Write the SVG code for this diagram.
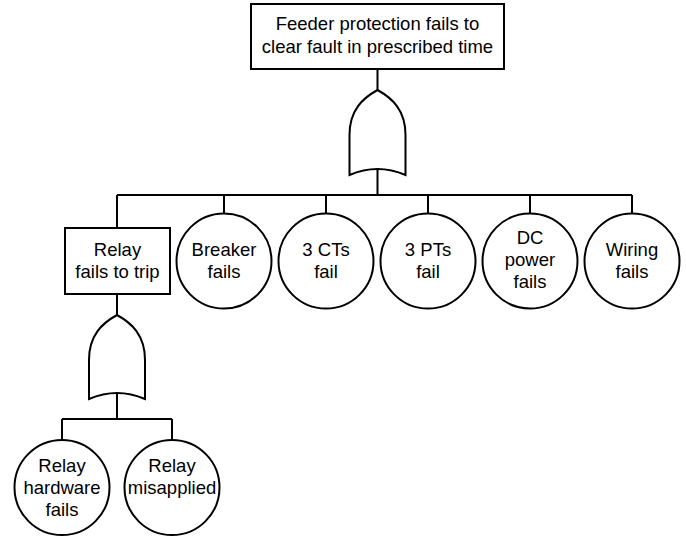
<svg xmlns="http://www.w3.org/2000/svg" width="686" height="537" viewBox="0 0 686 537">
<style>
.s{fill:#fff;stroke:#000;stroke-width:2}
.c{fill:none;stroke:#000;stroke-width:2}
text{font-family:"Liberation Sans",Arial,sans-serif;font-size:18.5px;fill:#000;text-anchor:middle}
</style>
<rect width="686" height="537" fill="#fff"/>
<g id="connectors">
<path class="c" d="M377.5,69 V90 M377.5,170 V195 M117,195 H632 M117,195 V228 M224,195 V213 M326,195 V213 M428,195 V213 M530,195 V213 M632,195 V213 M117,294 V315 M117,394 V419 M62,419 H172 M62,419 V440 M172,419 V440"/>
</g>
<g id="top">
<rect class="s" x="251" y="4" width="253" height="65"/>
<text x="377.5" y="30">Feeder protection fails to</text>
<text x="377.5" y="52.5">clear fault in prescribed time</text>
</g>
<g id="or1">
<path class="s" d="M377.5,90 C363,98 349.5,110 349.5,135 V175 Q377.5,163 405.5,175 V135 C405.5,110 392,98 377.5,90 Z"/>
</g>
<g id="relay">
<rect class="s" x="65" y="228" width="105" height="66"/>
<text x="117.5" y="256">Relay</text>
<text x="117.5" y="278">fails to trip</text>
</g>
<g id="breaker">
<circle class="s" cx="224" cy="261" r="47.5"/>
<text x="224" y="256">Breaker</text>
<text x="224" y="278">fails</text>
</g>
<g id="cts">
<circle class="s" cx="326" cy="261" r="47.5"/>
<text x="326" y="256">3 CTs</text>
<text x="326" y="278">fail</text>
</g>
<g id="pts">
<circle class="s" cx="428" cy="261" r="47.5"/>
<text x="428" y="256">3 PTs</text>
<text x="428" y="278">fail</text>
</g>
<g id="dc">
<circle class="s" cx="530" cy="261" r="47.5"/>
<text x="530" y="244">DC</text>
<text x="530" y="266">power</text>
<text x="530" y="288">fails</text>
</g>
<g id="wiring">
<circle class="s" cx="632" cy="261" r="47.5"/>
<text x="632" y="256">Wiring</text>
<text x="632" y="278">fails</text>
</g>
<g id="or2">
<path class="s" d="M117,315 C102.5,323 89,335 89,360 V399 Q117,387 145,399 V360 C145,335 131.5,323 117,315 Z"/>
</g>
<g id="hw">
<circle class="s" cx="62" cy="487.5" r="47.5"/>
<text x="62" y="471.5">Relay</text>
<text x="62" y="493.5">hardware</text>
<text x="62" y="515.5">fails</text>
</g>
<g id="mis">
<circle class="s" cx="172" cy="487.5" r="47.5"/>
<text x="172" y="471.5">Relay</text>
<text x="172" y="493.5">misapplied</text>
</g>
</svg>
